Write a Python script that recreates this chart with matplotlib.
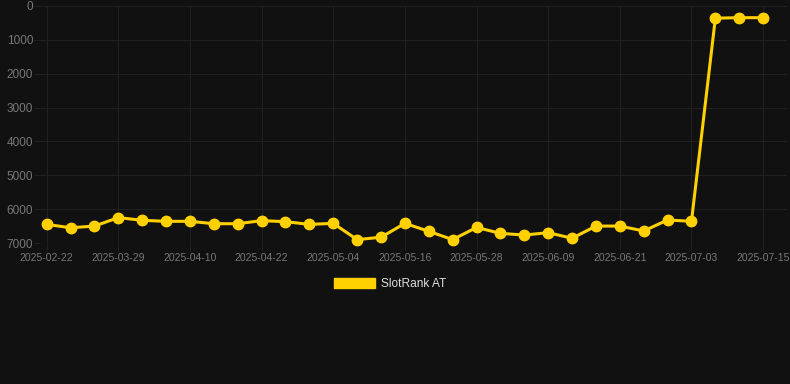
import matplotlib
matplotlib.use("Agg")
import matplotlib.pyplot as plt
from matplotlib.patches import Patch

# categories (one point per snapshot date)
dates = ["2025-02-22", "2025-03-21", "2025-03-25", "2025-03-29", "2025-04-02",
         "2025-04-06", "2025-04-10", "2025-04-14", "2025-04-18", "2025-04-22",
         "2025-04-26", "2025-04-30", "2025-05-04", "2025-05-08", "2025-05-12",
         "2025-05-16", "2025-05-20", "2025-05-24", "2025-05-28", "2025-06-01",
         "2025-06-05", "2025-06-09", "2025-06-13", "2025-06-17", "2025-06-21",
         "2025-06-25", "2025-06-29", "2025-07-03", "2025-07-07", "2025-07-11",
         "2025-07-15"]
rank = [6450, 6550, 6500, 6250, 6330, 6360, 6360, 6430, 6430, 6340,
        6370, 6450, 6420, 6900, 6830, 6420, 6655, 6900, 6540, 6715,
        6765, 6695, 6860, 6500, 6500, 6645, 6320, 6360, 360, 345,
        345]
label_every = 3

bg = "#111111"
grid_c = "#202020"
tick_c = "#787878"
yellow = "#ffd100"

plt.rcParams['font.family'] = ['Liberation Sans', 'DejaVu Sans']

fig = plt.figure(figsize=(7.9, 3.84), dpi=100, facecolor=bg)
ax = fig.add_axes([40/790, 1-243/384, (787-40)/790, (243-6)/384])
ax.set_facecolor(bg)

x = list(range(len(dates)))
ax.plot(x, rank, color=yellow, lw=2.2, marker="o", ms=7.5, zorder=3, clip_on=False)

ax.set_ylim(7000, 0)
ax.set_yticks(range(0, 7001, 1000))
ax.set_xlim(-0.28, 31.0)
ax.set_xticks(x[::label_every])
ax.set_xticklabels(dates[::label_every])

ax.grid(True, color=grid_c, lw=0.8)
for s in ax.spines.values():
    s.set_visible(False)
ax.tick_params(axis="x", colors=grid_c, labelcolor=tick_c, labelsize=7.5, length=5, pad=2)
ax.tick_params(axis="y", colors=grid_c, labelcolor=tick_c, labelsize=8.5, length=4, pad=1)

handle = Patch(facecolor=yellow, edgecolor=yellow)
leg = fig.legend([handle], ["SlotRank AT"], loc="center",
                 bbox_to_anchor=(390/790, 1-284/384), frameon=False,
                 fontsize=8.6, handlelength=3.4, handleheight=1.0,
                 handletextpad=0.5, borderpad=0)
for t in leg.get_texts():
    t.set_color("#dddddd")

fig.savefig("out.png", facecolor=bg)
